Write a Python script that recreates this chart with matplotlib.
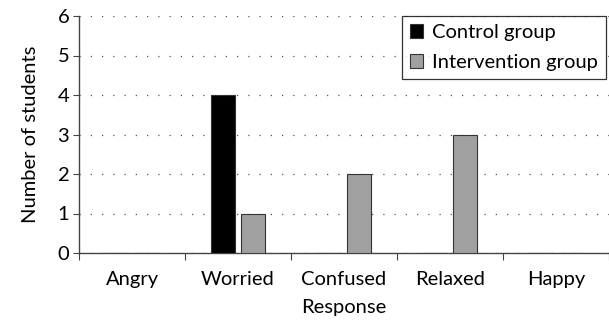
import numpy as np
import matplotlib.pyplot as plt

plt.rcParams['font.family'] = ['Lato', 'DejaVu Sans']

# survey responses per group
responses = ["Angry", "Worried", "Confused", "Relaxed", "Happy"]
control = [0, 4, 0, 0, 0]
intervention = [0, 1, 2, 3, 0]

fig = plt.figure(figsize=(6.09, 3.23), dpi=100)
ax = fig.add_axes([79 / 609, 1 - 253 / 323, 530 / 609, (253 - 16) / 323])

x = np.arange(len(responses))
w = 0.226
off = 0.14
ax.bar(x - off, control, w, color="black", edgecolor="#333333", linewidth=0.8,
       label="Control group", zorder=3)
ax.bar(x + off, intervention, w, color="#a0a0a0", edgecolor="#333333", linewidth=0.8,
       label="Intervention group", zorder=3)

ax.set_xlim(-0.5, len(responses) - 0.5)
ax.set_ylim(0, 6)
ax.set_yticks(range(7))
ax.set_xticks(np.arange(len(responses) + 1) - 0.5, minor=False)
ax.set_xticklabels([])
ax.set_xticks(x, minor=True)
ax.set_xticklabels(responses, minor=True, fontsize=14.5)
ax.tick_params(axis="x", which="minor", length=0, pad=13)
ax.tick_params(axis="x", which="major", length=5, direction="out", color="#444444")
ax.tick_params(axis="y", length=4, direction="out", color="#444444", labelsize=14.5, pad=3)

ax.yaxis.grid(True, linestyle=(0, (1, 8)), color="#555555", linewidth=0.9)
ax.set_axisbelow(True)
for s in ("top", "right"):
    ax.spines[s].set_visible(False)
for s in ("left", "bottom"):
    ax.spines[s].set_color("#444444")
    ax.spines[s].set_linewidth(1.0)

ax.set_ylabel("Number of students", fontsize=14.5, labelpad=13)
ax.set_xlabel("Response", fontsize=14.5, labelpad=8)

leg = ax.legend(loc="upper right", bbox_to_anchor=(527 / 530, 1.0), fontsize=14.5,
                bbox_transform=ax.transAxes,
                frameon=True, fancybox=False, edgecolor="black",
                handlelength=0.65, handleheight=0.65, handletextpad=0.45,
                borderpad=0.4, labelspacing=0.65, borderaxespad=0.0)
leg.get_frame().set_linewidth(0.9)

fig.savefig("out.png", dpi=100)
